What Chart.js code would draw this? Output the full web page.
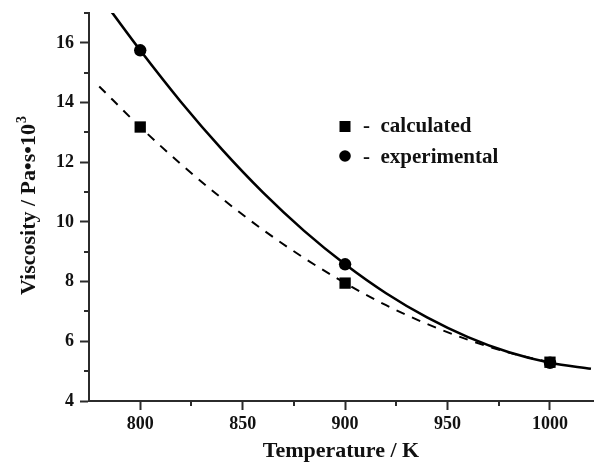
<!DOCTYPE html>
<html>
<head>
<meta charset="utf-8">
<script src="https://cdn.jsdelivr.net/npm/chart.js@4/dist/chart.umd.min.js"></script>
<style>
  html, body { margin: 0; padding: 0; background: #fff; }
  #wrap { width: 595px; height: 462px; position: relative; }
</style>
</head>
<body>
<div id="wrap"><canvas id="c" width="595" height="462"></canvas></div>
<script>
// ---- data ----
const pointTemps = [800, 900, 1000];
const experimental = [15.75, 8.58, 5.28];
const calculated = [13.18, 7.95, 5.30];

const expCurveTemps = [786, 800, 820, 840, 860, 880, 900, 920, 940, 960, 980, 1000, 1020];
const expCurveValues = [17.04, 15.75, 14.01, 12.42, 10.98, 9.70, 8.58, 7.61, 6.80, 6.14, 5.63, 5.28, 5.08];

const calcCurveTemps = [780, 800, 820, 840, 860, 880, 900, 920, 940, 960, 980, 1000];
const calcCurveValues = [14.54, 13.18, 11.93, 10.78, 9.73, 8.79, 7.95, 7.21, 6.58, 6.05, 5.62, 5.30];

const xMajorTicks = [800, 850, 900, 950, 1000];
const xMinorTicks = [825, 875, 925, 975];
const yMajorTicks = [4, 6, 8, 10, 12, 14, 16];
const yMinorTicks = [5, 7, 9, 11, 13, 15, 17];

const legendLabels = ['-  calculated', '-  experimental'];
const yTitleMain = 'Viscosity / Pa•s•10';
const yTitleSup = '3';

// ---- chart ----
const FONT = "'Liberation Serif', 'Times New Roman', serif";
const AXIS = '#2b2b2b';

const toXY = (xs, ys) => xs.map((x, i) => ({ x: x, y: ys[i] }));

const minorTicksPlugin = {
  id: 'minorTicks',
  afterDraw(chart) {
    const ctx = chart.ctx;
    const xs = chart.scales.x, ys = chart.scales.y;
    ctx.save();
    ctx.strokeStyle = AXIS;
    ctx.lineWidth = 2;
    xMinorTicks.forEach(v => {
      const px = Math.round(xs.getPixelForValue(v));
      ctx.beginPath();
      ctx.moveTo(px, xs.top);
      ctx.lineTo(px, xs.top + 5);
      ctx.stroke();
    });
    yMinorTicks.forEach(v => {
      const py = Math.round(ys.getPixelForValue(v));
      ctx.beginPath();
      ctx.moveTo(ys.right, py);
      ctx.lineTo(ys.right - 5, py);
      ctx.stroke();
    });
    ctx.restore();
  }
};

const yTitlePlugin = {
  id: 'yTitle',
  afterDraw(chart) {
    const ctx = chart.ctx;
    const a = chart.chartArea;
    ctx.save();
    ctx.fillStyle = '#111';
    const mainFont = "bold 22px " + FONT;
    const supFont = "bold 14px " + FONT;
    ctx.font = mainFont;
    const w1 = ctx.measureText(yTitleMain).width;
    ctx.font = supFont;
    const w2 = ctx.measureText(yTitleSup).width;
    const total = w1 + w2;
    const cy = (a.top + a.bottom) / 2 - 1;
    ctx.translate(35, cy);
    ctx.rotate(-Math.PI / 2);
    ctx.textBaseline = 'alphabetic';
    ctx.textAlign = 'left';
    ctx.font = mainFont;
    ctx.fillText(yTitleMain, -total / 2, 0);
    ctx.font = supFont;
    ctx.fillText(yTitleSup, -total / 2 + w1 + 1, -9);
    ctx.restore();
  }
};

const legendPlugin = {
  id: 'insideLegend',
  afterDatasetsDraw(chart) {
    const ctx = chart.ctx;
    const a = chart.chartArea;
    ctx.save();
    const mx = a.left + 256;
    ctx.fillStyle = '#000';
    ctx.fillRect(mx - 5.5, 121, 11, 11);
    ctx.beginPath();
    ctx.arc(mx, 156, 5.8, 0, Math.PI * 2);
    ctx.fill();
    ctx.font = "bold 21px " + FONT;
    ctx.textBaseline = 'alphabetic';
    ctx.textAlign = 'left';
    ctx.fillStyle = '#111';
    ctx.fillText(legendLabels[0], mx + 18, 132);
    ctx.fillText(legendLabels[1], mx + 18, 163);
    ctx.restore();
  }
};

new Chart(document.getElementById('c'), {
  type: 'scatter',
  data: {
    datasets: [
      {
        label: 'experimental fit',
        data: toXY(expCurveTemps, expCurveValues),
        showLine: true,
        borderColor: '#000',
        borderWidth: 2.6,
        pointRadius: 0,
        cubicInterpolationMode: 'monotone',
        order: 4
      },
      {
        label: 'calculated fit',
        data: toXY(calcCurveTemps, calcCurveValues),
        showLine: true,
        borderColor: '#000',
        borderWidth: 2,
        borderDash: [9, 8],
        pointRadius: 0,
        cubicInterpolationMode: 'monotone',
        order: 3
      },
      {
        label: 'experimental',
        data: toXY(pointTemps, experimental),
        pointStyle: 'circle',
        pointRadius: 6.2,
        backgroundColor: '#000',
        borderColor: '#000',
        borderWidth: 0,
        order: 2
      },
      {
        label: 'calculated',
        data: toXY(pointTemps, calculated),
        pointStyle: 'rect',
        pointRadius: 8,
        backgroundColor: '#000',
        borderColor: '#000',
        borderWidth: 0,
        order: 1
      }
    ]
  },
  options: {
    responsive: false,
    animation: false,
    devicePixelRatio: 1,
    layout: { autoPadding: false, padding: { left: 0, top: 13, right: 2, bottom: 0 } },
    plugins: { legend: { display: false }, tooltip: { enabled: false } },
    scales: {
      x: {
        type: 'linear',
        min: 775,
        max: 1021,
        afterBuildTicks: s => { s.ticks = xMajorTicks.map(v => ({ value: v })); },
        afterFit: s => { s.height = 61; s.paddingLeft = 0; s.paddingRight = 0; },
        grid: { drawOnChartArea: false, drawTicks: true, tickLength: 9, tickWidth: 2, tickColor: AXIS },
        border: { display: true, color: AXIS, width: 2 },
        ticks: { color: '#111', padding: 4, maxRotation: 0, font: { family: FONT, size: 18, weight: 'bold' },
                 callback: v => String(v) },
        title: { display: true, text: 'Temperature / K', color: '#111', padding: { top: 0, bottom: 0 },
                 font: { family: FONT, size: 22, weight: 'bold', lineHeight: 1.0 } }
      },
      y: {
        type: 'linear',
        min: 4,
        max: 17,
        afterBuildTicks: s => { s.ticks = yMajorTicks.map(v => ({ value: v })); },
        afterFit: s => { s.width = 89; s.paddingTop = 0; s.paddingBottom = 0; },
        grid: { drawOnChartArea: false, drawTicks: true, tickLength: 9, tickWidth: 2, tickColor: AXIS },
        border: { display: true, color: AXIS, width: 2 },
        ticks: { color: '#111', padding: 6, font: { family: FONT, size: 18, weight: 'bold' },
                 callback: v => String(v) },
        title: { display: false }
      }
    }
  },
  plugins: [minorTicksPlugin, yTitlePlugin, legendPlugin]
});
</script>
</body>
</html>
